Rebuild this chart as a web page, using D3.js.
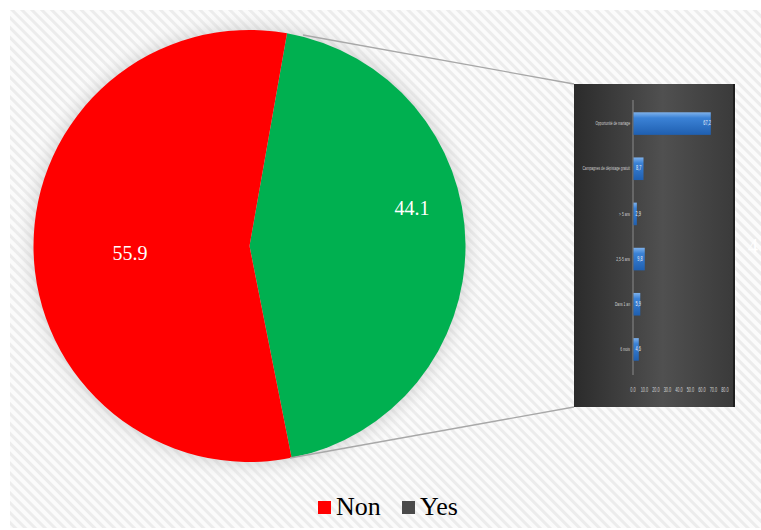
<!DOCTYPE html>
<html><head><meta charset="utf-8">
<script src="https://cdn.jsdelivr.net/npm/d3@7"></script>
<style>body{margin:0;background:#fff}svg{display:block}</style>
</head><body>
<script>
const pieLabels = ["Yes", "Non"];
const pieValues = [44.1, 55.9];
const pieColors = ["#00b050", "#ff0000"];
const legendLabels = ["Non", "Yes"];
const legendColors = ["#ff0000", "#4a4a4a"];
const barCategories = ["Opportunité de mariage", "Campagnes de dépistage gratuit", "> 5 ans", "2,5-5 ans", "Dans 1 an", "6 mois"];
const barValues = [67.2, 8.7, 2.9, 9.8, 5.9, 4.6];
const barTicks = [0, 10, 20, 30, 40, 50, 60, 70, 80];

const W = 761, H = 530;
const svg = d3.select("body").append("svg").attr("width", W).attr("height", H);
const defs = svg.append("defs");

const pat = defs.append("pattern").attr("id", "stripes").attr("patternUnits", "userSpaceOnUse")
  .attr("width", 7).attr("height", 7).attr("patternTransform", "rotate(-45)");
pat.append("rect").attr("width", 7).attr("height", 7).attr("fill", "#fbfbfb");
pat.append("rect").attr("width", 3).attr("height", 7).attr("fill", "#ececec");

const rg = defs.append("radialGradient").attr("id", "shade").attr("cx", "0.5").attr("cy", "0.5").attr("r", "0.5");
rg.append("stop").attr("offset", "0.9").attr("stop-color", "#aaa").attr("stop-opacity", 0.35);
rg.append("stop").attr("offset", "1").attr("stop-color", "#fff").attr("stop-opacity", 0);

const bg = defs.append("linearGradient").attr("id", "dark").attr("x1", 0).attr("x2", 1).attr("y1", 0).attr("y2", 0);
bg.append("stop").attr("offset", "0").attr("stop-color", "#2b2b2b");
bg.append("stop").attr("offset", "0.55").attr("stop-color", "#505050");
bg.append("stop").attr("offset", "1").attr("stop-color", "#3a3a3a");

const bl = defs.append("linearGradient").attr("id", "blue").attr("x1", 0).attr("x2", 0).attr("y1", 0).attr("y2", 1);
bl.append("stop").attr("offset", "0").attr("stop-color", "#7fb2ec");
bl.append("stop").attr("offset", "0.25").attr("stop-color", "#3b82d6");
bl.append("stop").attr("offset", "1").attr("stop-color", "#1f5fb0");

svg.append("rect").attr("x", 10).attr("y", 10).attr("width", W - 10).attr("height", H - 12).attr("fill", "url(#stripes)");

// pie
const cx = 249.5, cy = 246, R = 216;
svg.append("circle").attr("cx", cx).attr("cy", cy).attr("r", R + 22).attr("fill", "url(#shade)");
const pie = d3.pie().sort(null).startAngle(10 * Math.PI / 180).endAngle(370 * Math.PI / 180).value(d => d);
const arcs = pie(pieValues);
const arc = d3.arc().innerRadius(0).outerRadius(R);
const g = svg.append("g").attr("transform", `translate(${cx},${cy})`);
g.selectAll("path").data(arcs).join("path").attr("d", arc).attr("fill", (d, i) => pieColors[i]);
const labPos = [[412 - cx, 210 - cy], [130 - cx, 255 - cy]];
g.selectAll("text").data(arcs).join("text")
  .attr("x", (d, i) => labPos[i][0]).attr("y", (d, i) => labPos[i][1])
  .attr("text-anchor", "middle").attr("dominant-baseline", "middle")
  .attr("fill", "#fff").attr("font-family", "Liberation Serif, serif").attr("font-size", 20)
  .text(d => d.value.toFixed(1));

// inset bar chart
const bx = 574, by = 84, bw = 161, bh = 323;
svg.append("line").attr("x1", 303).attr("y1", 35).attr("x2", bx).attr("y2", by).attr("stroke", "#a8a8a8").attr("stroke-width", 1.3);
svg.append("line").attr("x1", 290).attr("y1", 458).attr("x2", bx).attr("y2", by + bh).attr("stroke", "#a8a8a8").attr("stroke-width", 1.3);
svg.append("rect").attr("x", bx).attr("y", by).attr("width", bw).attr("height", bh).attr("fill", "url(#dark)");
svg.append("rect").attr("x", bx + bw - 2).attr("y", by).attr("width", 2).attr("height", bh).attr("fill", "#1e1e1e");

const xs = d3.scaleLinear().domain([0, 80]).range([633, 725]);
const ys = d3.scaleBand().domain(barCategories).range([101, 372]).paddingInner(0.5).paddingOuter(0.25);
const font = "Liberation Sans, sans-serif";
const bg2 = svg.append("g");
bg2.append("line").attr("x1", xs(0)).attr("x2", xs(0)).attr("y1", 100).attr("y2", 375).attr("stroke", "#8a8a8a").attr("stroke-width", 1);
bg2.selectAll("rect.bar").data(barValues).join("rect").attr("class", "bar")
  .attr("x", xs(0) + 0.5).attr("y", (d, i) => ys(barCategories[i]))
  .attr("width", d => Math.max(3, xs(d) - xs(0))).attr("height", ys.bandwidth())
  .attr("fill", "url(#blue)");
bg2.selectAll("text.val").data(barValues).join("text").attr("class", "val")
  .attr("transform", (d, i) => `translate(${Math.max(xs(0) + 2.5, xs(d) - 7)},${ys(barCategories[i]) + ys.bandwidth() / 2}) scale(0.6,1)`)
  .attr("dominant-baseline", "middle").attr("fill", "#e8eef8").attr("font-size", 6.5)
  .attr("font-family", font)
  .text(d => d.toFixed(1).replace(".", ","));
bg2.selectAll("text.cat").data(barCategories).join("text").attr("class", "cat")
  .attr("transform", d => `translate(${xs(0) - 3},${ys(d) + ys.bandwidth() / 2}) scale(0.55,1)`)
  .attr("text-anchor", "end").attr("dominant-baseline", "middle").attr("fill", "#d0d0d0")
  .attr("font-size", 6).attr("font-family", font)
  .text(d => d);
bg2.selectAll("text.tick").data(barTicks).join("text").attr("class", "tick")
  .attr("transform", d => `translate(${xs(d)},390) scale(0.6,1)`)
  .attr("text-anchor", "middle").attr("dominant-baseline", "middle")
  .attr("fill", "#d0d0d0").attr("font-size", 6.5).attr("font-family", font)
  .text(d => d.toFixed(1));

// stray label fragment at right edge
svg.append("text").attr("x", 748).attr("y", 253).attr("fill", "#fff").attr("font-size", 20)
  .attr("font-family", "Liberation Serif, serif").text("4");

// legend
const lg = svg.append("g");
const lx = [318, 402];
legendLabels.forEach((l, i) => {
  lg.append("rect").attr("x", lx[i]).attr("y", 501).attr("width", 13).attr("height", 13).attr("fill", legendColors[i]);
  lg.append("text").attr("x", lx[i] + 18).attr("y", 515).attr("font-family", "Liberation Serif, serif")
    .attr("font-size", 26).attr("fill", "#000").text(l);
});
</script>
</body></html>
